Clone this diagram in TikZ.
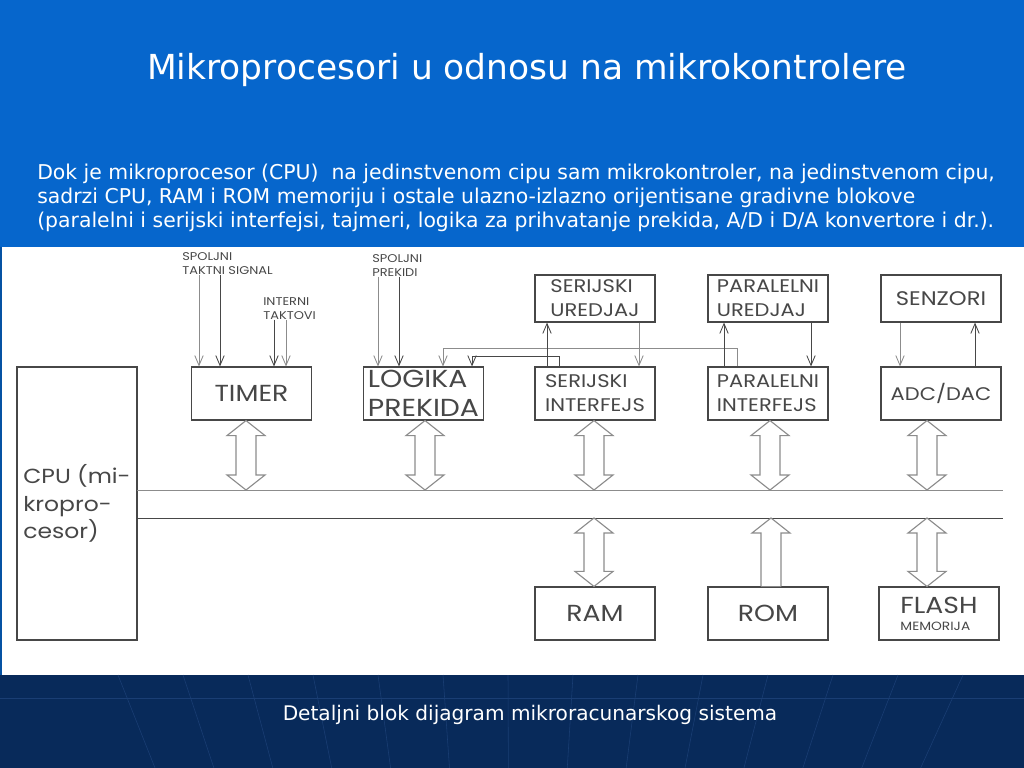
\documentclass[tikz,border=0pt]{standalone}
\usepackage{fontspec}
\setmainfont{DejaVu Sans}
\newfontfamily\gothic[FakeStretch=1.15]{Poppins}
\usetikzlibrary{calc,arrows.meta}
\definecolor{slideblue}{RGB}{6,102,204}
\definecolor{slidenavy}{RGB}{8,42,90}
\definecolor{navyline}{RGB}{26,62,116}
\definecolor{ink}{gray}{0.28}
\definecolor{lightink}{gray}{0.55}
\newcommand{\dblarrow}[2]{%
    \draw[hollow] (#1) -- ($(#1)+(19,15)$) -- ($(#1)+(10,15)$) -- ($(#2)+(10,-15)$) -- ($(#2)+(19,-15)$)
        -- (#2) -- ($(#2)+(-19,-15)$) -- ($(#2)+(-10,-15)$) -- ($(#1)+(-10,15)$) -- ($(#1)+(-19,15)$) -- cycle;}
\newcommand{\uparrowbus}[2]{%
    \draw[hollow] ($(#2)+(-10,0)$) -- ($(#1)+(-10,15)$) -- ($(#1)+(-19,15)$) -- (#1)
        -- ($(#1)+(19,15)$) -- ($(#1)+(10,15)$) -- ($(#2)+(10,0)$);}

\begin{document}
\begin{tikzpicture}[x=0.025cm, y=-0.025cm, >={Straight Barb[length=7pt,width=6pt]},
    block/.style={draw=ink, line width=0.8pt, minimum width=3cm, minimum height=1.325cm, inner sep=1pt,
        text=ink, align=left, font=\gothic\fontsize{13}{17}\selectfont},
    big/.style={font=\gothic\fontsize{16.5}{21}\selectfont},
    device/.style={block, minimum height=1.175cm},
    tiny/.style={text=ink, align=left, inner sep=0pt, anchor=north west, font=\gothic\fontsize{8}{10}\selectfont},
    sig/.style={->, line width=0.6pt, draw=ink},
    sigl/.style={sig, draw=lightink},
    bus/.style={line width=0.7pt},
    hollow/.style={draw=lightink, line width=0.8pt, fill=white}]
    \useasboundingbox (0,0) rectangle (1024,768);

    \fill[slideblue] (0,0) rectangle (1024,247);
    \fill[slideblue!80!black] (0,247) rectangle (1024,675);
    \fill[white] (2,247) rectangle (1024,675);
    \fill[slidenavy] (0,675) rectangle (1024,768);
    \draw[navyline] (0,698) -- (1024,698);
    \foreach \xt in {118,183,...,963}
        \draw[navyline] (\xt,675) -- ({512+(\xt-512)*0.906},768);

    \node[text=white, font=\fontsize{24.5}{28}\selectfont] (title) at (527,70) {Mikroprocesori u odnosu na mikrokontrolere};
    \node[text=white, align=left, anchor=north west, inner sep=0pt, font=\fontsize{14.5}{17}\selectfont] (intro) at (37,164)
        {Dok je mikroprocesor (CPU)~ na jedinstvenom cipu sam mikrokontroler, na jedinstvenom cipu,\\
         sadrzi CPU, RAM i ROM memoriju i ostale ulazno-izlazno orijentisane gradivne blokove\\
         (paralelni i serijski interfejsi, tajmeri, logika za prihvatanje prekida, A/D i D/A konvertore i dr.).};
    \node[text=white, font=\fontsize{14.3}{16}\selectfont] (caption) at (530,715) {Detaljni blok dijagram mikroracunarskog sistema};

    \node[block, minimum height=6.825cm, font=\gothic\fontsize{14.5}{19.5}\selectfont] (cpu) at (77,503.5) {CPU (mi-\\kropro-\\cesor)};
    \node[block, big] (timer) at (251.5,393.5) {TIMER};
    \node[block, font=\gothic\fontsize{17.5}{21}\selectfont] (logika) at (423.5,393.5) {LOGIKA\\PREKIDA};
    \node[block] (serint) at (595,393.5) {SERIJSKI\\INTERFEJS};
    \node[block] (parint) at (768,393.5) {PARALELNI\\INTERFEJS};
    \node[block] (adc) at (941,393.5) {ADC/DAC};
    \node[device] (seru) at (595,298.5) {SERIJSKI\\UREDJAJ};
    \node[device] (paru) at (768,298.5) {PARALELNI\\UREDJAJ};
    \node[device, font=\gothic\fontsize{14}{17}\selectfont] (senz) at (941,298.5) {SENZORI};
    \node[block, big] (ram) at (595,613.5) {RAM};
    \node[block, big] (rom) at (768,613.5) {ROM};
    \node[block, big] (flash) at (939,613.5) {FLASH\\[-9pt]{\fontsize{8.5}{9}\selectfont MEMORIJA}};

    \node[tiny] (spt) at (182,252) {SPOLJNI\\TAKTNI SIGNAL};
    \node[tiny] (itk) at (263,297) {INTERNI\\TAKTOVI};
    \node[tiny] (spr) at (372,254) {SPOLJNI\\PREKIDI};

    \coordinate (busA) at (137,490);
    \coordinate (busAend) at (1003,490);
    \coordinate (busB) at (137,518);
    \coordinate (busBend) at (1003,518);
    \draw[bus, lightink] (busA) -- (busAend);
    \draw[bus, ink] (busB) -- (busBend);

    \foreach \n/\xx in {timer/246, logika/425, serint/594, parint/770, adc/927} {
        \coordinate (t) at (\xx,0 |- \n.south);
        \coordinate (b) at (\xx,0 |- busA);
        \dblarrow{t}{b}
    }
    \foreach \n/\xx in {ram/594, flash/927} {
        \coordinate (t) at (\xx,0 |- busB);
        \coordinate (b) at (\xx,0 |- \n.north);
        \dblarrow{t}{b}
    }
    \coordinate (t) at (771,0 |- busB);
    \coordinate (b) at (771,0 |- rom.north);
    \uparrowbus{t}{b}

    \foreach \xx/\c in {199/sigl, 220/sig} \draw[\c] (\xx,0 |- spt.south) -- (\xx,0 |- timer.north);
    \foreach \xx/\c in {274/sig, 286/sigl} \draw[\c] (\xx,0 |- itk.south) -- (\xx,0 |- timer.north);
    \foreach \xx/\c in {378/sigl, 399/sig} \draw[\c] (\xx,0 |- spr.south) -- (\xx,0 |- logika.north);

    \draw[sig] (serint.north -| 559,0) |- (472,356) -- (472,0 |- logika.north);
    \draw[sigl] (parint.north -| 737,0) |- (443,348) -- (443,0 |- logika.north);
    \draw[sig] (547,0 |- serint.north) -- (547,0 |- seru.south);
    \draw[sigl] (639,0 |- seru.south) -- (639,0 |- serint.north);
    \draw[sig] (724,0 |- parint.north) -- (724,0 |- paru.south);
    \draw[sig] (811,0 |- paru.south) -- (811,0 |- parint.north);
    \draw[sigl] (900,0 |- senz.south) -- (900,0 |- adc.north);
    \draw[sig] (975,0 |- adc.north) -- (975,0 |- senz.south);
\end{tikzpicture}
\end{document}
